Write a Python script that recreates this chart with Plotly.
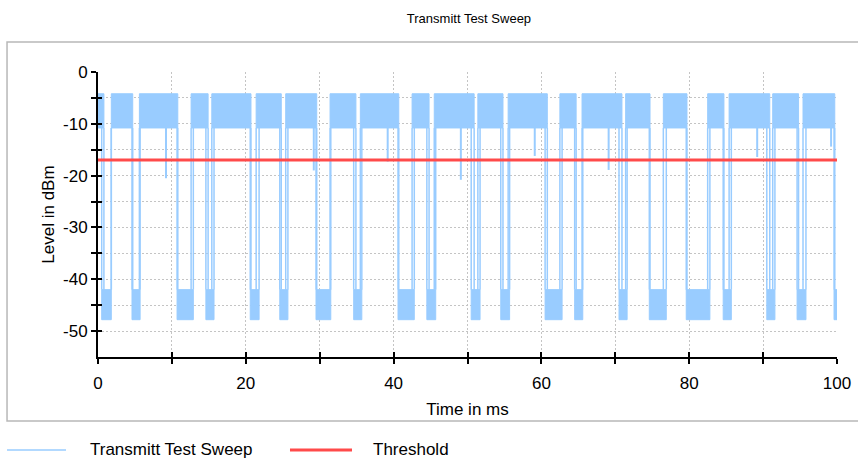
import plotly.graph_objects as go

# ---------------- data ----------------
# high-level bursts of the transmit sweep (ms)
hi_start = [0.0, 1.8, 5.6, 12.6, 15.4, 21.4, 25.4, 31.4, 35.5, 42.5, 45.5,
            51.4, 55.5, 62.5, 65.5, 71.4, 76.5, 82.5, 85.4, 91.3, 95.4]
hi_end = [0.8, 4.7, 10.8, 14.9, 20.7, 24.8, 29.6, 34.9, 40.7, 44.8, 50.9,
          54.8, 60.8, 64.7, 70.9, 74.7, 79.7, 84.7, 90.9, 94.8, 99.7]
# low-level bursts (ms)
lo_start = [0.5, 4.6, 10.7, 14.6, 20.6, 24.6, 29.5, 34.6, 40.6, 44.5, 50.5,
            54.5, 60.5, 64.5, 70.5, 74.6, 79.6, 84.6, 90.5, 94.6, 99.6]
lo_end = [1.8, 5.7, 12.9, 15.7, 21.8, 25.7, 31.5, 35.7, 42.8, 45.7, 51.7,
          55.7, 62.8, 65.6, 71.6, 76.9, 82.8, 85.7, 91.6, 95.8, 100.0]

# level envelopes in dBm (top, bottom)
hi_band = (-4.2, -10.8)
lo_band = (-42.0, -47.8)

# downward spikes inside the high bursts (ms, dBm)
dip_t = [9.2, 29.2, 39.2, 49.1, 59.1, 69.1, 89.2, 99.2]
dip_lvl = [-20.5, -19.0, -17.3, -20.8, -16.2, -18.9, -16.4, -14.4]

threshold_x = [0, 100]
threshold_y = [-17, -17]

x_ticks = [0, 10, 20, 30, 40, 50, 60, 70, 80, 90, 100]
x_labels = ["0", "", "20", "", "40", "", "60", "", "80", "", "100"]
y_ticks = [0, -5, -10, -15, -20, -25, -30, -35, -40, -45, -50]
y_labels = ["0", "", "-10", "", "-20", "", "-30", "", "-40", "", "-50"]

SIG = "#99ccff"
RED = "#ff4a4a"
FONT = "Liberation Sans, Arial, sans-serif"


def band_polys(starts, ends, top, bot):
    xs, ys = [], []
    for s, e in zip(starts, ends):
        xs += [s, s, e, e, s, None]
        ys += [bot, top, top, bot, bot, None]
    return xs, ys


def transitions(starts, ends, y0, y1):
    xs, ys = [], []
    for v in list(starts) + list(ends):
        if 0 < v < 100:
            xs += [v, v, None]
            ys += [y0, y1, None]
    return xs, ys


fig = go.Figure()

# transitions between the levels
tx, ty = transitions(hi_start + lo_start, hi_end + lo_end, hi_band[1], lo_band[0])
fig.add_trace(go.Scatter(x=tx, y=ty, mode="lines", line=dict(color=SIG, width=1.5),
                         showlegend=False, hoverinfo="skip"))

# spikes
sx, sy = [], []
for t, lv in zip(dip_t, dip_lvl):
    sx += [t, t, None]
    sy += [hi_band[1], lv, None]
fig.add_trace(go.Scatter(x=sx, y=sy, mode="lines", line=dict(color=SIG, width=2),
                         showlegend=False, hoverinfo="skip"))

# bursts
for st, en, env in [(hi_start, hi_end, hi_band), (lo_start, lo_end, lo_band)]:
    xs, ys = band_polys(st, en, env[0], env[1])
    fig.add_trace(go.Scatter(x=xs, y=ys, fill="toself", fillcolor=SIG,
                             mode="lines", line=dict(width=1, color=SIG),
                             name="Transmitt Test Sweep", showlegend=False,
                             hoverinfo="skip"))

# threshold
fig.add_trace(go.Scatter(x=threshold_x, y=threshold_y, mode="lines",
                         line=dict(color=RED, width=3), name="Threshold",
                         showlegend=False))

# dummy trace for the overlay axes (inner tick halves)
fig.add_trace(go.Scatter(x=[None], y=[None], xaxis="x2", yaxis="y2",
                         showlegend=False, hoverinfo="skip"))

axis_common = dict(showline=True, linecolor="black", linewidth=2,
                   ticks="outside", ticklen=5, tickwidth=1.5, tickcolor="black",
                   tickfont=dict(family=FONT, size=17, color="black"),
                   gridcolor="#c4c4c4", griddash="2px,2px", gridwidth=1,
                   zeroline=False, automargin=False)

fig.update_layout(
    width=858, height=460,
    margin=dict(l=98, r=21, t=72, b=103),
    paper_bgcolor="white", plot_bgcolor="white",
    showlegend=False,
    title=dict(text="Transmitt Test Sweep", x=0.5466, xanchor="center",
               y=1 - 18 / 460, yanchor="middle",
               font=dict(family=FONT, size=13, color="black")),
    xaxis=dict(range=[0, 100], tickmode="array", tickvals=x_ticks, ticktext=x_labels,
               title=dict(text="Time in ms", font=dict(family=FONT, size=17, color="black"),
                          standoff=11),
               ticklabelstandoff=5,
               **axis_common),
    yaxis=dict(range=[-55, 0], tickmode="array", tickvals=y_ticks, ticktext=y_labels,
               title=dict(text="Level in dBm", font=dict(family=FONT, size=17, color="black"),
                          standoff=4),
               **axis_common),
    xaxis2=dict(range=[0, 100], overlaying="x", anchor="y", side="bottom",
                tickmode="array", tickvals=x_ticks, ticks="inside", ticklen=5,
                tickwidth=1.5, tickcolor="black", showticklabels=False,
                showgrid=False, showline=False, zeroline=False, automargin=False),
    yaxis2=dict(range=[-55, 0], overlaying="y", anchor="x", side="left",
                tickmode="array", tickvals=y_ticks, ticks="inside", ticklen=4,
                tickwidth=1.5, tickcolor="black", showticklabels=False,
                showgrid=False, showline=False, zeroline=False, automargin=False),
)

# outer frame
fig.add_shape(type="rect", xref="paper", yref="paper", x0=-0.1231, x1=1.04,
              y0=-0.2246, y1=1.105, line=dict(color="#b8b8b8", width=1.5),
              layer="below")

# manual legend
leg_y = -0.326
fig.add_shape(type="line", xref="paper", yref="paper", x0=-0.1231, x1=-0.0433,
              y0=leg_y, y1=leg_y, line=dict(color=SIG, width=1.5))
fig.add_annotation(xref="paper", yref="paper", x=-0.0135, y=leg_y, xanchor="left",
                   yanchor="middle", showarrow=False, text="Transmitt Test Sweep",
                   font=dict(family=FONT, size=17, color="black"))
fig.add_shape(type="line", xref="paper", yref="paper", x0=0.2598, x1=0.3437,
              y0=leg_y, y1=leg_y, line=dict(color=RED, width=3))
fig.add_annotation(xref="paper", yref="paper", x=0.3695, y=leg_y, xanchor="left",
                   yanchor="middle", showarrow=False, text="Threshold",
                   font=dict(family=FONT, size=17, color="black"))

fig.write_html("out.html",
               config={"displayModeBar": False, "responsive": False},
               post_script="document.documentElement.style.margin='0';"
                           "document.body.style.margin='0';"
                           "document.documentElement.style.overflow='hidden';"
                           "document.body.style.overflow='hidden';")
